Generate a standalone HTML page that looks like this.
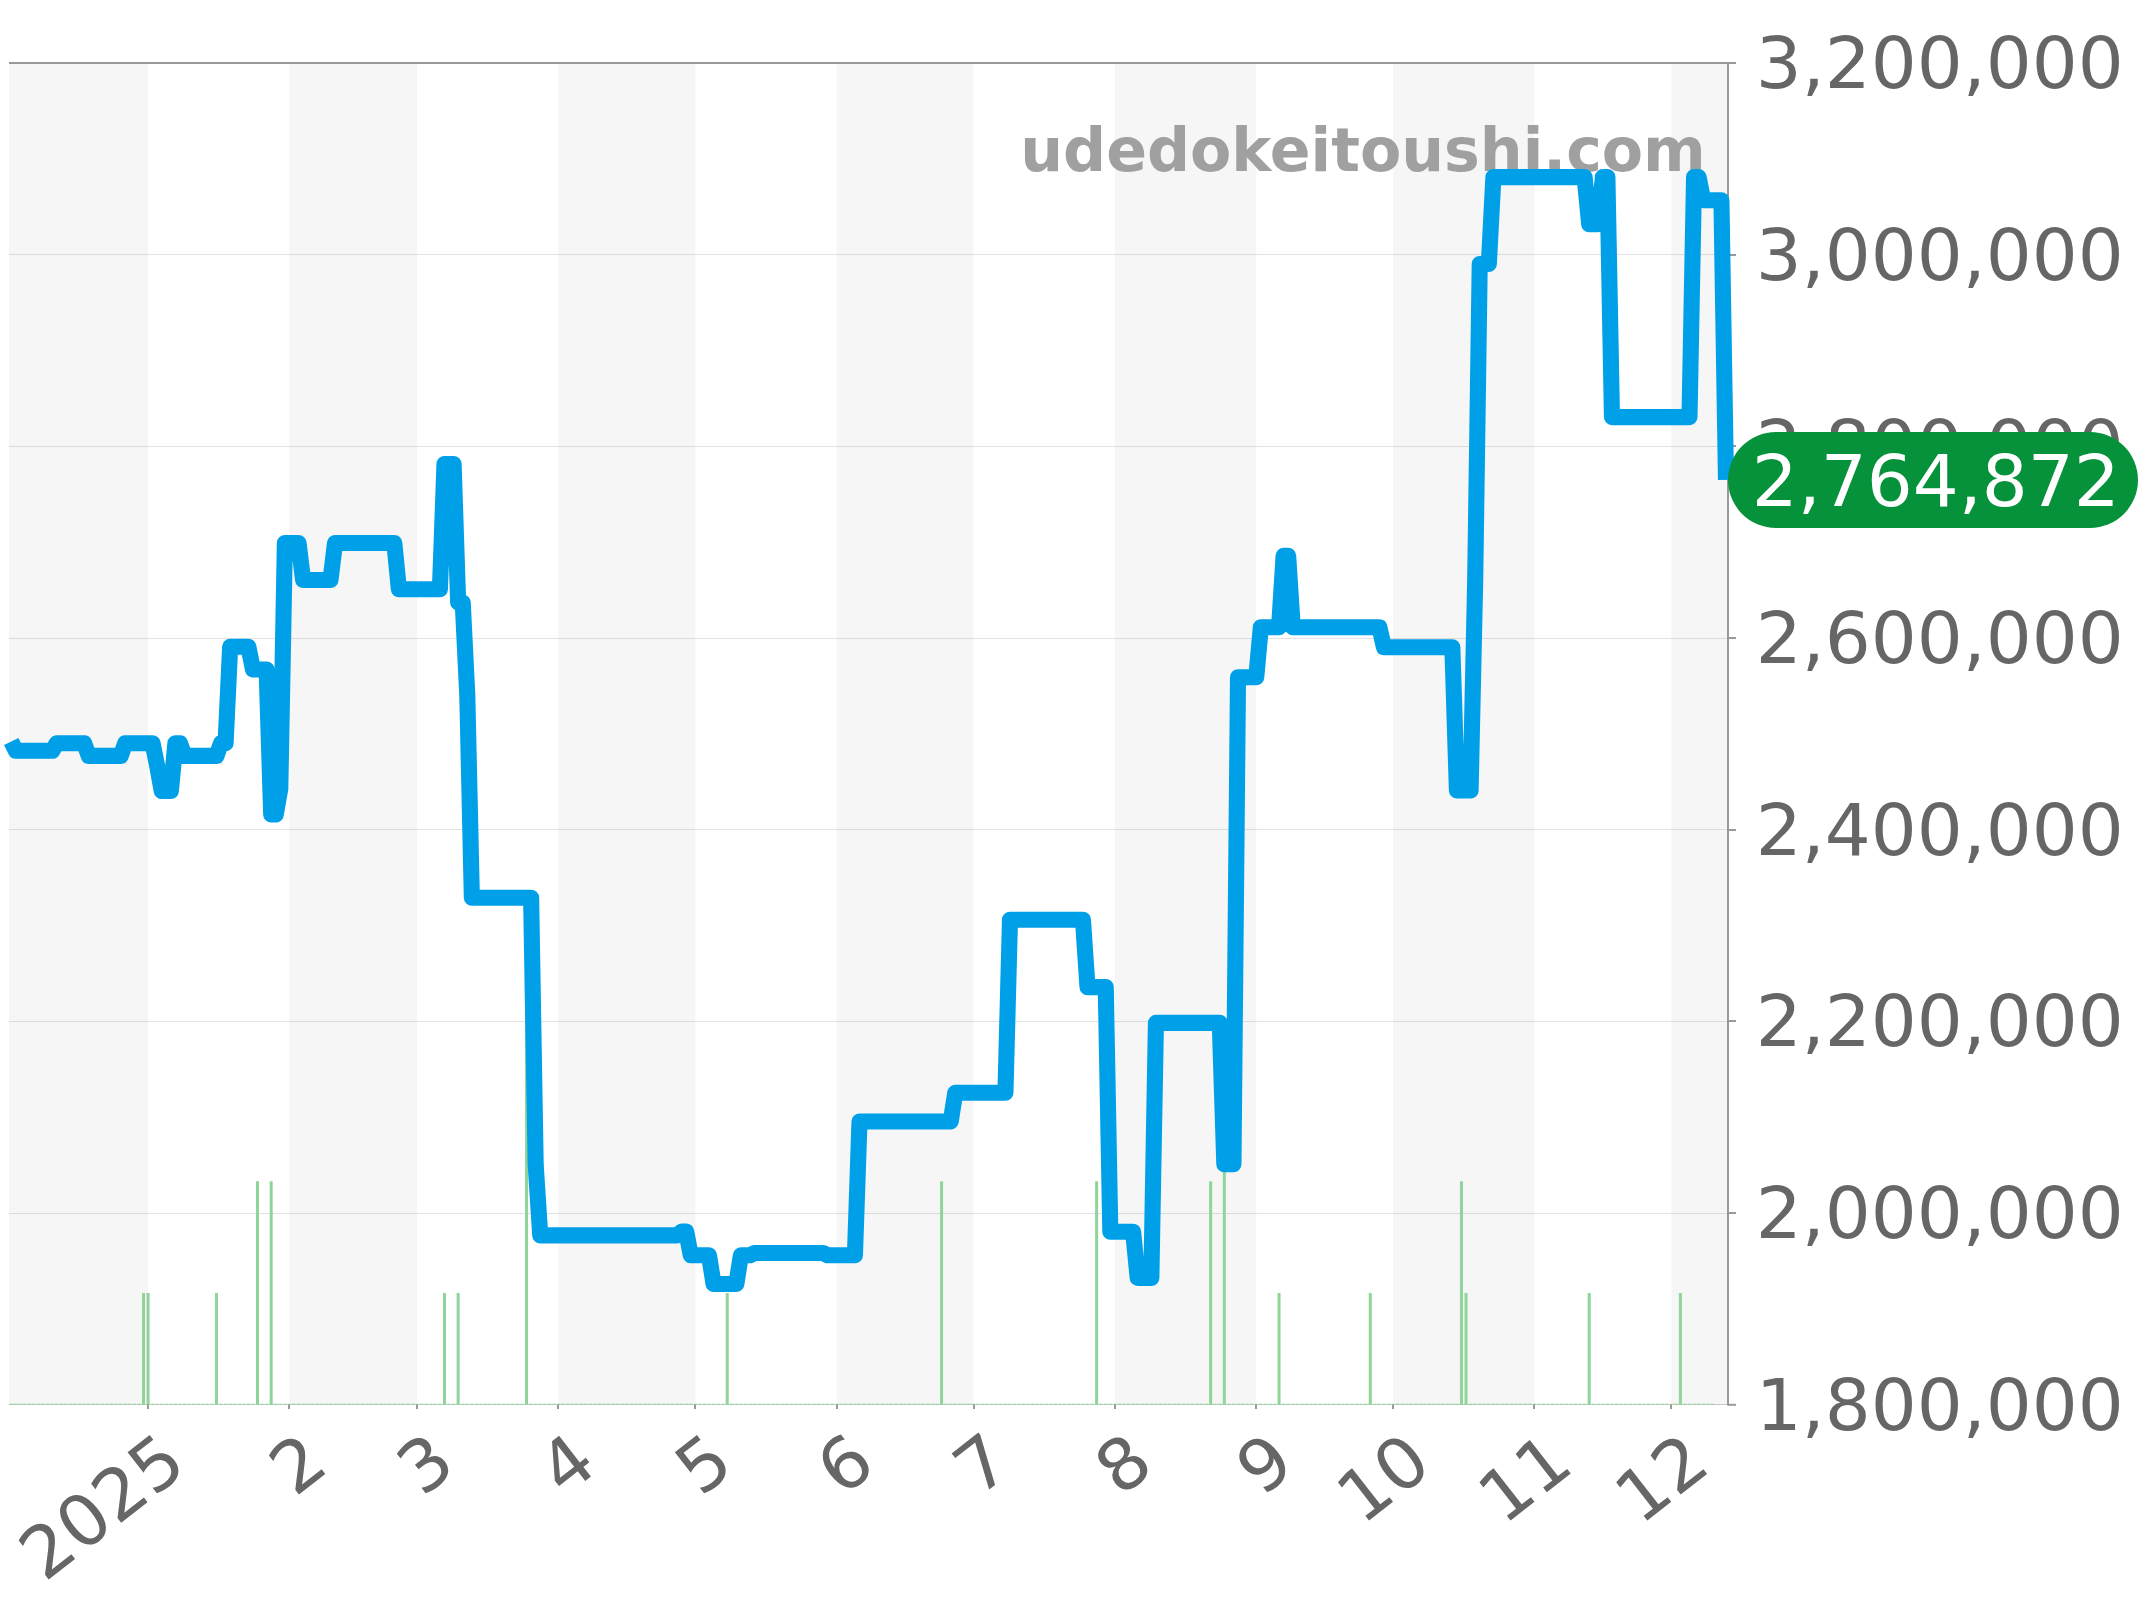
<!DOCTYPE html>
<html lang="ja"><head><meta charset="utf-8"><title>chart</title>
<style>html,body{margin:0;padding:0;background:#fff;overflow:hidden}svg{display:block}text{font-family:"DejaVu Sans","Liberation Sans",sans-serif;font-stretch:normal}</style></head><body>
<svg width="2144" height="1600" viewBox="0 0 2144 1600">
<rect width="2144" height="1600" fill="#fff"/>
<g fill="#f6f6f6">
<rect x="9.00" y="63" width="139.05" height="1341.4"/>
<rect x="289.43" y="63" width="127.69" height="1341.4"/>
<rect x="558.50" y="63" width="136.81" height="1341.4"/>
<rect x="836.69" y="63" width="136.82" height="1341.4"/>
<rect x="1114.88" y="63" width="141.38" height="1341.4"/>
<rect x="1393.07" y="63" width="141.38" height="1341.4"/>
<rect x="1671.26" y="63" width="56.74" height="1341.4"/>
</g>
<g stroke="#000" stroke-opacity="0.115" stroke-width="1">
<line x1="9" x2="1728" y1="254.50" y2="254.50"/>
<line x1="9" x2="1728" y1="446.50" y2="446.50"/>
<line x1="9" x2="1728" y1="638.50" y2="638.50"/>
<line x1="9" x2="1728" y1="829.50" y2="829.50"/>
<line x1="9" x2="1728" y1="1021.50" y2="1021.50"/>
<line x1="9" x2="1728" y1="1213.50" y2="1213.50"/>
<line x1="9" x2="1728" y1="1404.50" y2="1404.50"/>
<line x1="9" x2="1728" y1="1404.5" y2="1404.5" stroke="#000" stroke-opacity="0.1" stroke-width="1"/>
</g>
<g fill="#8fd498">
<rect x="141.99" y="1293.00" width="3.0" height="111.40"/>
<rect x="146.55" y="1293.00" width="3.0" height="111.40"/>
<rect x="214.96" y="1293.00" width="3.0" height="111.40"/>
<rect x="256.00" y="1181.25" width="3.0" height="223.15"/>
<rect x="269.68" y="1181.25" width="3.0" height="223.15"/>
<rect x="442.98" y="1293.00" width="3.0" height="111.40"/>
<rect x="456.66" y="1293.00" width="3.0" height="111.40"/>
<rect x="525.07" y="958.40" width="3.0" height="446.00"/>
<rect x="725.73" y="1293.00" width="3.0" height="111.40"/>
<rect x="940.08" y="1181.25" width="3.0" height="223.15"/>
<rect x="1095.13" y="1181.25" width="3.0" height="223.15"/>
<rect x="1209.15" y="1181.25" width="3.0" height="223.15"/>
<rect x="1222.83" y="1069.50" width="3.0" height="334.90"/>
<rect x="1277.55" y="1293.00" width="3.0" height="111.40"/>
<rect x="1368.76" y="1293.00" width="3.0" height="111.40"/>
<rect x="1459.97" y="1181.25" width="3.0" height="223.15"/>
<rect x="1464.53" y="1293.00" width="3.0" height="111.40"/>
<rect x="1587.67" y="1293.00" width="3.0" height="111.40"/>
<rect x="1678.88" y="1293.00" width="3.0" height="111.40"/>
</g>
<line x1="9.64" x2="1713.90" y1="1404.30" y2="1404.30" stroke="#8fd498" stroke-width="1.1" stroke-dasharray="3.2 1.3605"/>
<text transform="translate(1705.8,171.1) scale(0.9962,1)" text-anchor="end" font-size="60.4" font-weight="bold" fill="#a0a0a0">udedokeitoushi.com</text>
<g stroke="#999999" stroke-width="2" fill="none">
<line x1="9" x2="1736" y1="63" y2="63"/>
<line x1="1728" x2="1728" y1="63" y2="1405.4"/>
<line x1="1728" x2="1736" y1="255.00" y2="255.00"/>
<line x1="1728" x2="1736" y1="446.00" y2="446.00"/>
<line x1="1728" x2="1736" y1="638.00" y2="638.00"/>
<line x1="1728" x2="1736" y1="830.00" y2="830.00"/>
<line x1="1728" x2="1736" y1="1021.00" y2="1021.00"/>
<line x1="1728" x2="1736" y1="1213.00" y2="1213.00"/>
<line x1="1728" x2="1736" y1="1404.80" y2="1404.80"/>
<line x1="148" x2="148" y1="1404.6" y2="1408.9"/>
<line x1="289" x2="289" y1="1404.6" y2="1408.9"/>
<line x1="417" x2="417" y1="1404.6" y2="1408.9"/>
<line x1="558" x2="558" y1="1404.6" y2="1408.9"/>
<line x1="695" x2="695" y1="1404.6" y2="1408.9"/>
<line x1="837" x2="837" y1="1404.6" y2="1408.9"/>
<line x1="974" x2="974" y1="1404.6" y2="1408.9"/>
<line x1="1115" x2="1115" y1="1404.6" y2="1408.9"/>
<line x1="1256" x2="1256" y1="1404.6" y2="1408.9"/>
<line x1="1393" x2="1393" y1="1404.6" y2="1408.9"/>
<line x1="1534" x2="1534" y1="1404.6" y2="1408.9"/>
<line x1="1671" x2="1671" y1="1404.6" y2="1408.9"/>
</g>
<path d="M11.24,741.50 L15.80,750.80 L52.28,750.80 L56.84,743.30 L84.20,743.30 L88.76,755.90 L120.69,755.90 L125.25,743.30 L152.61,743.30 L157.17,766.00 L161.73,791.00 L170.85,791.00 L175.41,743.30 L179.97,743.30 L184.53,755.90 L216.46,755.90 L221.02,743.30 L225.58,743.30 L230.14,646.75 L248.38,646.75 L252.94,669.50 L266.62,669.50 L271.18,814.50 L275.74,814.50 L280.30,788.75 L284.87,543.00 L298.55,543.00 L303.11,580.00 L330.47,580.00 L335.03,543.00 L394.32,543.00 L398.88,589.25 L439.92,589.25 L444.48,464.00 L453.60,464.00 L458.16,602.50 L462.72,602.50 L467.29,695.00 L471.85,897.75 L531.13,897.75 L535.69,1165.00 L540.25,1235.40 L677.07,1235.40 L681.63,1231.50 L686.19,1231.50 L690.75,1255.30 L708.99,1255.30 L713.55,1284.00 L736.35,1284.00 L740.91,1255.30 L750.04,1255.30 L754.60,1253.00 L823.00,1253.00 L827.56,1255.30 L854.93,1255.30 L859.49,1121.50 L950.70,1121.50 L955.26,1092.75 L1005.42,1092.75 L1009.98,919.75 L1082.95,919.75 L1087.51,987.10 L1105.76,987.10 L1110.32,1231.80 L1133.12,1231.80 L1137.68,1277.90 L1151.36,1277.90 L1155.92,1022.90 L1219.77,1022.90 L1224.33,1164.25 L1233.45,1164.25 L1238.01,677.25 L1256.25,677.25 L1260.81,627.25 L1279.05,627.25 L1283.61,555.75 L1288.17,555.75 L1292.74,627.25 L1379.38,627.25 L1383.95,647.25 L1452.35,647.25 L1456.91,790.50 L1470.60,790.50 L1475.16,582.00 L1479.72,264.00 L1488.84,264.00 L1493.40,177.10 L1584.61,177.10 L1589.17,224.25 L1598.29,224.25 L1602.85,177.10 L1607.41,177.10 L1611.97,417.10 L1689.50,417.10 L1694.06,177.10 L1698.62,177.10 L1703.18,200.25 L1721.42,200.25 L1725.98,479.80" fill="none" stroke="#00a0e9" stroke-width="16.1" stroke-linejoin="round" stroke-linecap="butt"/>
<g font-size="72.3" fill="#666666">
<text transform="translate(1755.7,87.80) scale(1,0.987)">3,200,000</text>
<text transform="translate(1755.7,279.80) scale(1,0.987)">3,000,000</text>
<text transform="translate(1755.7,470.80) scale(1,0.987)">2,800,000</text>
<text transform="translate(1755.7,662.80) scale(1,0.987)">2,600,000</text>
<text transform="translate(1755.7,854.80) scale(1,0.987)">2,400,000</text>
<text transform="translate(1755.7,1045.80) scale(1,0.987)">2,200,000</text>
<text transform="translate(1755.7,1237.80) scale(1,0.987)">2,000,000</text>
<text transform="translate(1755.7,1429.80) scale(1,0.987)">1,800,000</text>
</g>
<g font-size="72.3" fill="#666666" text-anchor="end">
<text transform="translate(189.55,1469.40) rotate(-38) scale(1,0.98)">2025</text>
<text transform="translate(330.93,1469.40) rotate(-38) scale(1,0.98)">2</text>
<text transform="translate(458.62,1469.40) rotate(-38) scale(1,0.98)">3</text>
<text transform="translate(600.00,1469.40) rotate(-38) scale(1,0.98)">4</text>
<text transform="translate(736.81,1469.40) rotate(-38) scale(1,0.98)">5</text>
<text transform="translate(878.19,1469.40) rotate(-38) scale(1,0.98)">6</text>
<text transform="translate(1015.00,1469.40) rotate(-38) scale(1,0.98)">7</text>
<text transform="translate(1156.38,1469.40) rotate(-38) scale(1,0.98)">8</text>
<text transform="translate(1297.75,1469.40) rotate(-38) scale(1,0.98)">9</text>
<text transform="translate(1434.57,1469.40) rotate(-38) scale(1,0.98)">10</text>
<text transform="translate(1575.94,1469.40) rotate(-38) scale(1,0.98)">11</text>
<text transform="translate(1712.76,1469.40) rotate(-38) scale(1,0.98)">12</text>
</g>
<rect x="1728" y="432" width="410" height="96" rx="48" ry="48" fill="#06923a"/>
<text transform="translate(1751.7,506.3) scale(1,0.987)" font-size="72.3" fill="#fff">2,764,872</text>
</svg></body></html>
